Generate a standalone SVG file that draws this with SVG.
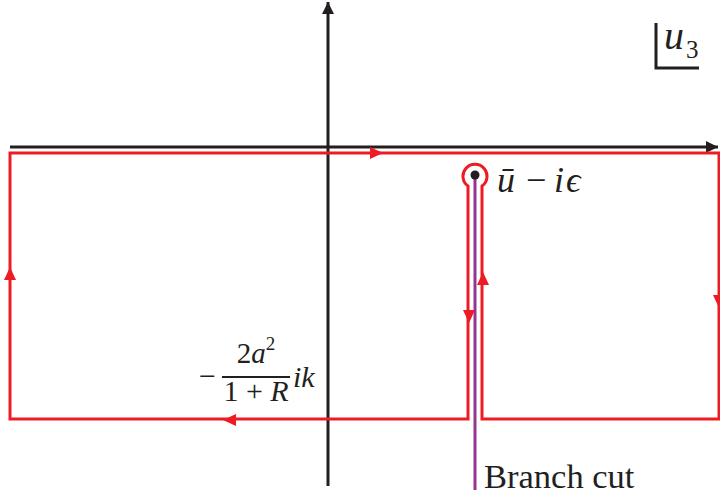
<svg xmlns="http://www.w3.org/2000/svg" width="720" height="499" viewBox="0 0 720 499">
<defs>
<style>
.axis{stroke:#231f20;stroke-width:3;fill:none}
.red{stroke:#ed1c24;stroke-width:3;fill:none}
.cut{stroke:#93358f;stroke-width:3;fill:none}
.math{font-family:"Liberation Serif","Times New Roman","DejaVu Serif",serif;fill:#231f20}
.it{font-style:italic}
</style>
<marker id="ah" viewBox="0 0 10 10" refX="10" refY="5" markerWidth="4" markerHeight="4" orient="auto"><path d="M0,0 L10,5 L0,10 z" fill="#231f20"/></marker>
<path id="ra" d="M0,-6 L13,0 L0,6 z" fill="#ed1c24"/>
</defs>
<rect width="720" height="499" fill="#fff"/>
<g id="axes">
<line class="axis" x1="328" y1="486" x2="328" y2="2" marker-end="url(#ah)"/>
<line class="axis" x1="10" y1="147" x2="718" y2="147" marker-end="url(#ah)"/>
<path class="axis" d="M656,23 V68 H699"/>
</g>
<g id="connectors">
<line class="cut" x1="475" y1="175" x2="475" y2="490"/>
<path class="red" d="M10,419 V153 H719 V419 H482 V186 A12,12 0 1 0 468,186 V419 Z"/>
<use href="#ra" transform="translate(370,153)"/>
<use href="#ra" transform="translate(10,280) rotate(-90)"/>
<use href="#ra" transform="translate(236,420) rotate(180)"/>
<use href="#ra" transform="translate(469,310) rotate(90)"/>
<use href="#ra" transform="translate(483,285) rotate(-90)"/>
<use href="#ra" transform="translate(719,295) rotate(90)"/>
</g>
<g id="pole">
<circle cx="475" cy="175" r="4.5" fill="#231f20"/>
<text class="math" y="192" font-size="36"><tspan class="it" x="497">ū</tspan><tspan x="526">−</tspan><tspan class="it" x="554">i</tspan><tspan class="it" x="566">ϵ</tspan></text>
</g>
<g id="label-u3">
<text class="math it" x="664" y="49" font-size="40">u</text>
<text class="math" x="686" y="58" font-size="25">3</text>
</g>
<g id="label-pole">
<text class="math" x="199" y="386" font-size="30">−</text>
<text class="math" x="256" y="363" font-size="29" text-anchor="middle">2<tspan class="it">a</tspan><tspan font-size="19" dy="-13">2</tspan></text>
<line x1="222" y1="377" x2="290" y2="377" stroke="#231f20" stroke-width="2"/>
<text class="math" x="256" y="401" font-size="30" text-anchor="middle">1 + <tspan class="it">R</tspan></text>
<text class="math it" x="293" y="387" font-size="30">ik</text>
</g>
<g id="label-cut">
<text class="math" x="484" y="488" font-size="34.5">Branch cut</text>
</g>
</svg>
